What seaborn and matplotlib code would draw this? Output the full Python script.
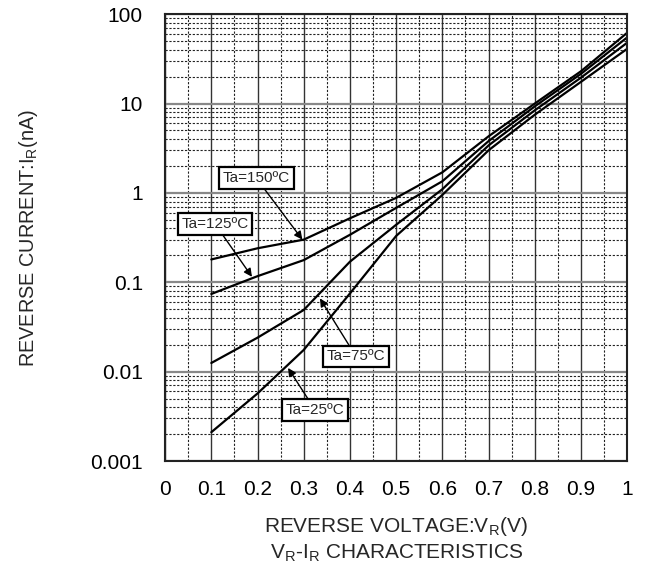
import matplotlib
matplotlib.use("Agg")
import matplotlib.pyplot as plt
import matplotlib.ticker as mticker
import numpy as np
import pandas as pd
import seaborn as sns

# reverse voltage (V)
voltage = [0.1, 0.2, 0.3, 0.4, 0.5, 0.6, 0.7, 0.8, 0.9, 1.0]

# reverse current (nA)
ir_150 = [0.18, 0.24, 0.30, 0.52, 0.88, 1.7, 4.3, 10.0, 23.0, 62.0]
ir_125 = [0.074, 0.117, 0.177, 0.34, 0.68, 1.35, 3.8, 9.3, 21.5, 55.0]
ir_75 = [0.0125, 0.024, 0.049, 0.17, 0.44, 1.1, 3.4, 8.4, 19.5, 48.0]
ir_25 = [0.0021, 0.0057, 0.0175, 0.075, 0.33, 0.95, 3.0, 7.5, 17.5, 41.0]

series_names = ["Ta=150ºC", "Ta=125ºC", "Ta=75ºC", "Ta=25ºC"]

x_ticks = [0, 0.1, 0.2, 0.3, 0.4, 0.5, 0.6, 0.7, 0.8, 0.9, 1]
x_tick_labels = ["0", "0.1", "0.2", "0.3", "0.4", "0.5", "0.6", "0.7", "0.8", "0.9", "1"]
y_ticks = [0.001, 0.01, 0.1, 1, 10, 100]
y_tick_labels = ["0.001", "0.01", "0.1", "1", "10", "100"]

# label box position -> arrow tip, in data coords
label_pos = {
    "Ta=150ºC": ((0.197, 1.47), (0.297, 0.30)),
    "Ta=125ºC": ((0.108, 0.45), (0.188, 0.115)),
    "Ta=75ºC": ((0.413, 0.0148), (0.335, 0.066)),
    "Ta=25ºC": ((0.325, 0.0037), (0.266, 0.011)),
}

df = pd.DataFrame({
    "V": voltage * 4,
    "I": ir_150 + ir_125 + ir_75 + ir_25,
    "Ta": np.repeat(series_names, len(voltage)),
})

sns.set_style("white")
plt.rcParams["font.family"] = ["Liberation Sans", "DejaVu Sans"]
plt.rcParams["mathtext.default"] = "regular"

fig = plt.figure(figsize=(6.5, 5.66), dpi=100)
ax = fig.add_axes([0.254, 0.1855, 0.711, 0.7895])

sns.lineplot(data=df, x="V", y="I", units="Ta", estimator=None,
             color="black", linewidth=1.6, ax=ax, legend=False)

ax.set_yscale("log")
ax.set_xlim(0, 1)
ax.set_ylim(0.001, 100)

# grid: solid majors, dashed minors
ax.xaxis.set_minor_locator(mticker.MultipleLocator(0.05))
ax.yaxis.set_minor_locator(mticker.LogLocator(base=10, subs=np.arange(2, 10)))
ax.yaxis.set_minor_formatter(mticker.NullFormatter())
ax.grid(which="major", axis="x", color="#333333", linewidth=1.0, linestyle="-")
ax.grid(which="major", axis="y", color="#888888", linewidth=1.6, linestyle="-")
ax.grid(which="minor", color="#222222", linewidth=0.8, linestyle=(0, (2, 1.5)))
ax.set_axisbelow(True)

ax.set_xticks(x_ticks)
ax.set_xticklabels(x_tick_labels)
ax.set_yticks(y_ticks)
ax.set_yticklabels(y_tick_labels)
ax.tick_params(which="both", length=0, labelsize=15, colors="black")
ax.tick_params(axis="x", pad=14)
ax.tick_params(axis="y", pad=16)

for sp in ax.spines.values():
    sp.set_color("#222222")
    sp.set_linewidth(1.5)
    sp.set_visible(True)

ax.set_xlabel("REVERSE VOLTAGE:V$_R$(V)\nV$_R$-I$_R$ CHARACTERISTICS",
              fontsize=15, labelpad=11, linespacing=1.3)
ax.set_ylabel("REVERSE CURRENT:I$_R$(nA)", fontsize=14.3, labelpad=36)

for name in series_names:
    (tx, ty), (px, py) = label_pos[name]
    ax.annotate(name, xy=(px, py), xytext=(tx, ty), fontsize=11,
                ha="center", va="center", zorder=5,
                bbox=dict(boxstyle="square,pad=0.25", fc="white",
                          ec="black", lw=1.6),
                arrowprops=dict(arrowstyle="-|>", color="black", lw=1.0,
                                mutation_scale=12, shrinkA=0, shrinkB=0))

fig.savefig("out.png", dpi=100)
